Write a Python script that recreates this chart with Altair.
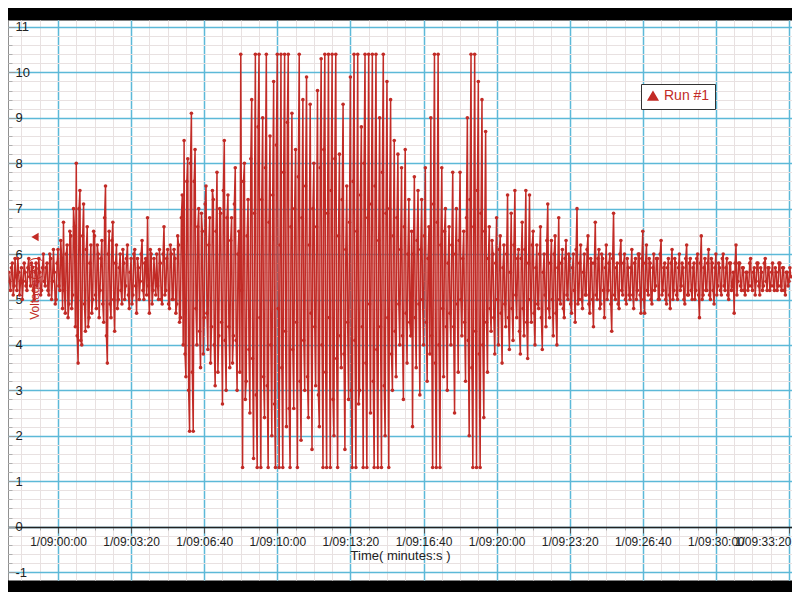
import altair as alt
import pandas as pd

RED = "#c22b26"
FONT = "Liberation Sans"

t_start = -135
dt = 2.5
row00 = [5.6,5.4, 5.2,5.7, 5.8,5.1, 5.3,5.9, 5.5,5.2, 5.9,5.6, 5.1,5.4, 5.7,5.0, 5.4,5.8, 5.6,5.3, 5.2,5.7, 5.9,5.5, 5.3,5.8, 5.7,5.2, 5.0,5.6, 5.8,5.3, 5.4,5.9, 5.6,5.1, 5.2,5.7, 6.0,5.4]
row01 = [5.3,5.7, 5.8,5.2, 5.1,6.0, 5.9,5.0, 5.4,6.1, 5.6,4.9, 5.0,5.8, 6.1,5.3, 5.2,6.3, 5.9,4.8, 6.7,5.2, 4.7,6.0, 6.2,4.6, 4.9,6.5, 6.4,4.8, 5.1,7.0, 6.6,4.4, 8.0,4.2, 3.6,7.0, 7.4,4.1]
row02 = [4.0,6.4, 7.1,4.9, 4.3,6.1, 6.6,4.4, 4.6,5.8, 6.2,4.7, 5.0,6.5, 6.4,5.1, 4.8,6.2, 6.0,4.6, 5.2,5.9, 6.3,4.9, 4.5,6.8, 7.5,4.2, 3.6,6.0, 6.5,4.9, 4.6,6.3, 6.7,5.0, 4.3,5.8, 6.2,4.8]
row03 = [5.0,5.7, 6.0,5.2, 4.9,6.1, 5.8,5.0, 5.3,5.9, 6.2,5.1, 4.8,5.6, 5.9,4.9, 5.1,6.0, 6.1,5.3, 4.7,5.9, 5.7,5.0, 5.4,6.0, 6.3,5.2, 5.0,5.8, 5.9,5.1, 6.8,5.3, 4.7,6.1, 6.0,4.9, 5.2,5.9]
row04 = [5.5,5.1, 6.0,5.3, 5.0,6.1, 5.8,5.0, 4.9,6.0, 6.6,5.1, 5.2,5.9, 6.1,4.9, 4.8,6.2, 6.0,5.0, 5.0,6.1, 5.9,4.7, 4.9,6.4, 6.2,4.5, 4.6,6.8, 7.3,4.0, 8.5,3.8, 3.3,7.6, 8.1,3.0, 2.1,8.0]
row05 = [9.1,3.4, 2.1,7.6, 8.3,4.8, 4.0,6.6, 7.0,4.3, 3.5,6.9, 6.5,3.8, 4.6,7.1, 7.5,4.7, 3.9,6.2, 6.8,3.6, 4.4,7.4, 7.2,4.0, 3.1,6.5, 7.8,3.4, 4.2,7.0, 6.9,4.5, 2.7,7.4, 8.5,4.1, 3.0,6.8]
row06 = [7.3,4.4, 3.5,6.3, 6.8,3.6, 4.2,7.1, 7.9,4.1, 3.0,6.0, 6.5,3.4, 10.4,5.2, 1.3,7.6, 8.0,2.8, 3.2,6.4, 7.2,3.9, 2.5,8.1, 9.4,3.7, 1.5,6.9, 10.4,2.9, 1.3,8.8, 10.4,4.6, 1.3,7.2, 9.0,3.3]
row07 = [2.4,7.9, 10.4,3.1, 1.3,6.7, 8.6,4.0, 2.0,7.3, 9.8,2.7, 1.3,8.4, 10.4,4.8, 1.3,6.2, 10.4,3.5, 1.3,7.8, 10.4,4.3, 2.2,8.9, 10.4,2.6, 1.3,6.6, 9.1,3.9, 2.6,7.0, 8.3,4.5, 1.3,7.7, 10.4,3.2]
row08 = [1.9,6.8, 9.4,4.1, 3.0,7.5, 9.9,3.3, 2.4,6.2, 9.3,4.7, 1.7,7.0, 8.0,4.4, 3.1,6.6, 9.6,2.9, 2.2,7.9, 10.3,4.0, 1.3,8.3, 10.4,3.4, 1.3,6.9, 10.4,4.6, 1.3,7.4, 10.4,2.8, 2.0,8.1, 10.4,3.7]
row09 = [1.3,6.4, 8.2,4.2, 3.5,7.2, 9.3,3.8, 1.7,6.1, 7.5,4.5, 2.8,6.7, 9.9,3.0, 1.3,7.6, 10.4,4.1, 1.3,6.5, 10.4,2.7, 3.0,7.3, 8.8,4.4, 1.3,8.0, 10.4,3.6, 1.3,6.8, 10.4,4.9, 2.5,7.1, 10.4,3.2]
row10 = [1.3,7.5, 10.4,3.9, 1.3,6.3, 9.0,4.4, 1.3,7.8, 10.4,3.1, 2.0,6.9, 9.8,4.6, 1.3,7.0, 9.4,3.8, 3.0,6.4, 8.5,4.3, 3.3,6.8, 8.2,4.9, 4.0,6.1, 7.9,4.2, 2.8,6.6, 8.3,4.7, 3.6,6.0, 7.2,4.5]
row11 = [4.2,6.5, 2.2,6.0, 7.7,4.6, 3.5,6.3, 7.4,4.9, 2.9,6.1, 7.2,5.0, 4.0,6.4, 7.9,4.5, 3.2,5.9, 6.6,3.8, 9.0,4.2, 1.3,7.1, 10.4,3.6, 1.3,6.7, 10.4,4.0, 1.3,6.2, 7.9,4.8, 3.3,6.5, 7.0,4.4]
row12 = [3.0,5.8, 6.6,4.7, 4.0,6.2, 7.8,4.4, 2.5,6.0, 7.0,4.9, 3.4,6.3, 7.8,5.0, 4.2,5.9, 6.5,4.5, 3.2,6.8, 9.0,4.1, 2.0,7.2, 10.4,3.5, 1.3,6.6, 10.4,4.3, 1.3,7.4, 9.8,3.8, 1.3,6.9, 9.4,4.0]
row13 = [2.4,6.5, 8.7,4.5, 3.4,5.9, 6.6,4.8, 4.3,6.3, 6.0,4.6, 3.8,5.8, 6.8,5.0, 4.0,6.1, 6.4,4.7, 3.6,5.7, 6.2,4.9, 4.4,6.0, 7.3,4.6, 3.9,5.6, 6.9,4.8, 4.1,6.2, 7.4,5.1, 4.6,5.9, 6.1,4.3]
row14 = [3.8,5.9, 6.7,4.8, 4.2,6.1, 7.4,4.5, 3.7,5.8, 7.3,5.0, 4.5,6.2, 6.5,4.7, 4.0,5.7, 6.2,4.9, 4.8,6.0, 6.6,4.6, 3.9,5.6, 6.0,5.1, 4.4,6.3, 7.1,4.8, 4.6,5.8, 6.3,5.0, 4.2,6.0, 6.4,4.7]
row15 = [4.0,5.7, 6.8,5.0, 4.9,5.8, 6.1,4.8, 4.6,5.9, 6.3,5.1, 5.0,6.0, 5.9,4.9, 4.7,5.7, 6.0,5.2, 4.5,6.1, 7.0,4.9, 5.0,5.8, 6.2,5.0, 4.8,5.6, 6.0,5.1, 5.1,6.1, 6.4,4.9, 4.7,5.9, 5.8,5.0]
row16 = [4.4,5.8, 6.7,5.1, 5.0,5.9, 6.1,4.8, 4.9,6.0, 5.9,5.2, 4.6,5.7, 6.2,5.0, 5.2,5.8, 6.0,4.9, 4.3,5.9, 6.9,5.1, 5.0,5.7, 5.8,4.9, 4.8,6.0, 6.3,5.2, 5.1,5.8, 6.0,5.0, 4.9,5.9, 5.7,5.1]
row17 = [5.0,5.7, 6.1,5.1, 4.8,5.8, 5.9,5.0, 5.2,6.0, 6.0,5.1, 4.7,5.9, 6.5,5.0, 4.7,5.8, 6.2,5.2, 5.1,5.9, 5.8,5.0, 4.9,5.7, 6.0,5.2, 5.3,5.9, 5.9,5.0, 5.0,6.0, 6.3,5.1, 5.2,5.7, 5.8,5.0]
row18 = [4.9,5.7, 5.9,5.1, 4.8,5.8, 6.1,5.0, 5.2,5.9, 5.8,5.1, 5.0,5.7, 6.0,5.2, 5.3,5.8, 5.7,5.0, 4.9,5.9, 6.2,5.1, 5.1,5.8, 5.9,5.2, 5.0,5.7, 5.8,5.0, 5.2,5.9, 6.0,5.1, 4.6,5.8, 6.4,5.0]
row19 = [5.1,5.7, 5.9,5.2, 5.2,5.8, 6.1,5.1, 5.0,5.9, 5.8,5.2, 4.9,5.7, 6.0,5.1, 5.3,5.8, 5.7,5.2, 5.1,5.9, 6.0,5.3, 5.2,5.7, 5.9,5.1, 5.0,5.8, 5.8,5.2, 5.3,5.6, 4.7,5.8, 6.2,5.1, 5.4,5.8]
row20 = [5.8,5.3, 5.2,5.7, 5.7,5.2, 5.1,5.6, 5.6,5.2, 5.3,5.8, 5.9,5.3, 5.2,5.6, 5.7,5.1, 5.4,5.8, 5.8,5.3, 5.1,5.7, 5.6,5.2, 5.3,5.8, 5.9,5.4, 5.2,5.7, 5.7,5.2, 5.3,5.6, 5.8,5.3, 5.2,5.7]
row21 = [5.6,5.2, 5.3,5.8, 5.8,5.3, 5.2,5.7, 5.7,5.2, 5.1,5.6, 5.6,5.3, 5.4,5.7, 5.5]

rows = [row00, row01, row02, row03, row04, row05, row06, row07, row08, row09, row10,
        row11, row12, row13, row14, row15, row16, row17, row18, row19, row20, row21]
volts = [v for r in rows for v in r]
times = [t_start + i * dt for i in range(len(volts))]

series_name = "Run #1"
x_major = [0, 200, 400, 600, 800, 1000, 1200, 1400, 1600, 1800, 2000]
x_minor = [-100 + 50 * i for i in range(43)]
y_major = [-1, 0, 1, 2, 3, 4, 5, 6, 7, 8, 9, 10, 11]
y_minor = [round(-1.0 + 0.2 * i, 1) for i in range(62)]

df = pd.DataFrame({"t": times, "v": volts, "series": series_name})

xs = alt.Scale(domain=[-136.8, 2008.2], nice=False, zero=False)
ys = alt.Scale(domain=[-1.176, 11.154], nice=False, zero=False)

label_expr = ("'1/09:' + (floor(datum.value/60) < 10 ? '0' : '') + floor(datum.value/60)"
              " + ':' + (datum.value % 60 < 10 ? '0' : '') + (datum.value % 60)")

minor = alt.Chart(df).mark_line(opacity=0).encode(
    x=alt.X("t:Q", scale=xs, axis=alt.Axis(
        orient="bottom", values=x_minor, grid=True, gridColor="#e8e1e1", gridWidth=1,
        labels=False, domain=False, ticks=True, tickSize=3, tickColor="#b0b0b0",
        offset=-53, title=None)),
    y=alt.Y("v:Q", scale=ys, axis=alt.Axis(
        orient="left", values=y_minor, grid=True, gridColor="#e8e1e1", gridWidth=1,
        labels=False, domain=False, ticks=True, tickSize=4, tickColor="#b0b0b0",
        offset=-4, title=None)),
)

line = alt.Chart(df).mark_line(
    color=RED, strokeWidth=1.5,
    point=alt.OverlayMarkDef(filled=True, size=13, color=RED),
).encode(
    x=alt.X("t:Q", scale=xs, axis=alt.Axis(
        orient="bottom", values=x_major, labelExpr=label_expr, grid=True,
        gridColor="#5cb9d8", gridWidth=1.5, domain=True, domainColor="#222222",
        domainWidth=1.5, ticks=True, tickSize=6, tickColor="#555555", offset=-53,
        labelFlush=5, labelFlushOffset=2, labelOverlap=False, labelFontSize=12,
        labelColor="#222222", labelPadding=3, title="Time( minutes:s )",
        titleFontSize=13, titleFontWeight="normal", titleColor="#222222",
        titlePadding=2)),
    y=alt.Y("v:Q", scale=ys, axis=alt.Axis(
        orient="left", values=y_major, labelExpr="'' + datum.value", grid=True,
        gridColor="#5cb9d8", gridWidth=1.5, domain=False, ticks=True, tickSize=7,
        tickColor="#999999", offset=-7, labelAlign="left", labelPadding=-7,
        labelBaseline="middle", labelFontSize=13, labelColor="#222222",
        title="Voltage( V )", titleColor=RED, titleAngle=270, titleX=26, titleY=268,
        titleAlign="center", titleBaseline="bottom", titleFontSize=12,
        titleFontWeight="normal")),
    color=alt.Color("series:N", scale=alt.Scale(range=[RED]), legend=alt.Legend(
        title=None, orient="none", legendX=633, legendY=64, symbolType="triangle-up",
        symbolSize=90, symbolFillColor=RED, symbolStrokeColor=RED, symbolOpacity=1,
        labelFontSize=14, labelColor=RED, strokeColor="#333333", fillColor="white",
        padding=5, cornerRadius=0)),
)

deco = pd.DataFrame({"k": [0]})
left_edge = alt.Chart(deco).mark_rule(color="#a0a0a0", strokeWidth=1).encode(
    x=alt.value(0), y=alt.value(0), y2=alt.value(560))
arrow = alt.Chart(deco).mark_point(shape="triangle-left", filled=True, color=RED,
                                   size=70, opacity=1).encode(
    x=alt.value(27), y=alt.value(217))

chart = alt.layer(minor, line, left_edge, arrow).resolve_axis(
    x="independent", y="independent"
).properties(
    width=784, height=560, background="black",
    padding={"left": 0, "right": 0, "top": 12, "bottom": 12},
    autosize=alt.AutoSizeParams(type="none"),
).configure_view(fill="white", stroke="transparent").configure_axis(
    labelFont=FONT, titleFont=FONT
).configure_legend(labelFont=FONT)

chart.save("out.html", embed_options={"renderer": "svg", "actions": False})
